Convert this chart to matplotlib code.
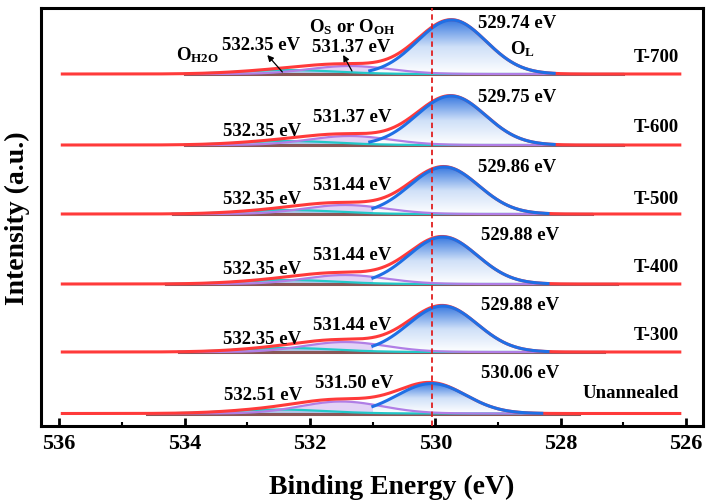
import numpy as np
import matplotlib
matplotlib.use("Agg")
import matplotlib.pyplot as plt
from matplotlib.colors import LinearSegmentedColormap
from matplotlib.ticker import MultipleLocator

plt.rcParams['font.family'] = ['Liberation Serif', 'DejaVu Serif']
plt.rcParams['font.weight'] = 'bold'
plt.rcParams['mathtext.fontset'] = 'custom'
plt.rcParams['mathtext.rm'] = 'Liberation Serif:bold'
plt.rcParams['mathtext.it'] = 'Liberation Serif:bold'
plt.rcParams['mathtext.bf'] = 'Liberation Serif:bold'

# ---------------- data ----------------
samples = ["Unannealed", "T-300", "T-400", "T-500", "T-600", "T-700"]
offsets = [12.5, 74, 142, 212, 281, 352]           # vertical stacking offsets (a.u.)
ol_center = [530.06, 529.88, 529.88, 529.86, 529.75, 529.74]
ol_height = [30, 46, 47, 47, 49, 54]
ol_sigma = [0.55, 0.55, 0.55, 0.55, 0.55, 0.55]
os_center = [531.50, 531.44, 531.44, 531.44, 531.37, 531.37]
os_height = [12, 10, 9, 9, 9, 8]
os_sigma = [0.65, 0.65, 0.65, 0.65, 0.65, 0.65]
h2o_center = [532.51, 532.35, 532.35, 532.35, 532.35, 532.35]
h2o_height = [4, 4, 4, 4, 4, 4]
h2o_sigma = [0.75, 0.75, 0.75, 0.75, 0.75, 0.75]
bg_range = [(534.6, 527.7), (534.1, 527.3), (534.3, 527.1), (534.2, 527.5), (534.0, 527.0), (534.0, 527.0)]
ol_range = [(531.0, 528.3), (531.0, 528.2), (531.0, 528.2), (531.0, 528.2), (531.05, 528.1), (531.05, 528.1)]
ol_labels = ["530.06 eV", "529.88 eV", "529.88 eV", "529.86 eV", "529.75 eV", "529.74 eV"]
os_labels = ["531.50 eV", "531.44 eV", "531.44 eV", "531.44 eV", "531.37 eV", "531.37 eV"]
h2o_labels = ["532.51 eV", "532.35 eV", "532.35 eV", "532.35 eV", "532.35 eV", "532.35 eV"]
ref_line = 530.05
xticks = [536, 534, 532, 530, 528, 526]

RED = "#ff3a3a"
BLUE = "#1f6fe5"
PURPLE = "#b07ee6"
CYAN = "#22c8c8"
BROWN = "#8a5656"

fig = plt.figure(figsize=(7.11, 5.04), dpi=100)
ax = fig.add_axes([41/711, 78/504, 662/711, 418/504])
ax.set_xlim(536.29, 525.73)
ax.set_ylim(0, 418)

E = np.linspace(535.95, 526.1, 1200)
cmap = LinearSegmentedColormap.from_list("bw", ["#ffffff", "#cfe0f8", "#3a7ae0"])

def gauss(x, c, h, s):
    return h * np.exp(-(x - c) ** 2 / (2 * s ** 2))

for i, name in enumerate(samples):
    b = offsets[i]
    g_ol = gauss(E, ol_center[i], ol_height[i], ol_sigma[i])
    g_os = gauss(E, os_center[i], os_height[i], os_sigma[i])
    g_h2o = gauss(E, h2o_center[i], h2o_height[i], h2o_sigma[i])
    env = b + g_ol + g_os + g_h2o
    lo, hi = bg_range[i][1], bg_range[i][0]
    m_bg = (E >= lo) & (E <= hi)
    ax.fill_between(E[m_bg], b, b + g_h2o[m_bg], color=CYAN, alpha=0.35, lw=0, zorder=2)
    ax.fill_between(E[m_bg], b, b + g_os[m_bg], color=PURPLE, alpha=0.35, lw=0, zorder=2)
    # O_L gradient fill
    m_ol = (E >= ol_range[i][1]) & (E <= ol_range[i][0])
    poly = ax.fill_between(E[m_ol], b, b + g_ol[m_ol], color="none", lw=0, zorder=3)
    grad = np.linspace(0, 1, 256).reshape(-1, 1)
    im = ax.imshow(grad, cmap=cmap, aspect="auto", origin="lower",
                   extent=[E[m_ol].max(), E[m_ol].min(), b, b + ol_height[i]],
                   zorder=3, interpolation="bilinear")
    im.set_clip_path(poly.get_paths()[0], transform=ax.transData)
    ax.plot(E[m_bg], np.full(m_bg.sum(), b), color=BROWN, lw=2.2, zorder=4)
    ax.plot(E[m_bg], b + g_h2o[m_bg], color=CYAN, lw=1.6, zorder=5)
    ax.plot(E[m_bg], b + g_os[m_bg], color=PURPLE, lw=1.6, zorder=5)
    ax.plot(E, env, color=RED, lw=2.2, zorder=6)
    ax.plot(E[m_ol], b + g_ol[m_ol], color=BLUE, lw=2.2, zorder=7)

def px(x, y):
    return (x / 711, 1 - y / 504)

fs = 13.5
ol_pos = [(520, 374), (520, 305), (520, 236), (517, 168), (517, 98), (517, 23)]
os_pos = [(354, 384), (352, 325), (352, 255), (352, 186), (352, 117), (351, 48)]
h2o_pos = [(263, 396), (262, 339), (262, 269), (262, 200), (262, 131), (261, 45)]
name_y = [394, 336, 267, 200, 128, 57]
for i in range(len(samples)):
    fig.text(*px(*ol_pos[i]), ol_labels[i], fontsize=fs, fontweight="bold", ha="center", va="center")
    fig.text(*px(*os_pos[i]), os_labels[i], fontsize=fs, fontweight="bold", ha="center", va="center")
    fig.text(*px(*h2o_pos[i]), h2o_labels[i], fontsize=fs, fontweight="bold", ha="center", va="center")
    fig.text(*px(679, name_y[i]), samples[i], fontsize=fs, fontweight="bold", ha="right", va="center")

fig.text(*px(198, 55), r"O$_{\mathrm{H2O}}$", fontsize=fs, fontweight="bold", ha="center", va="center")
fig.text(*px(352, 27), r"O$_{\mathrm{S}}$ or O$_{\mathrm{OH}}$", fontsize=fs, fontweight="bold", ha="center", va="center")
fig.text(*px(522, 49), r"O$_{\mathrm{L}}$", fontsize=fs, fontweight="bold", ha="center", va="center")

# arrows in T-700 (tail on curve, head at label)
top = len(samples) - 1
arrows = [((532.44, 2), (532.68, 19)), ((531.33, 3), (531.47, 19))]
for (tx, ty), (hx, hy) in arrows:
    ax.annotate("", xy=(hx, offsets[top] + hy), xytext=(tx, offsets[top] + ty),
                arrowprops=dict(arrowstyle="-|>", color="black", lw=0.9, mutation_scale=9,
                                shrinkA=0, shrinkB=0), zorder=9)

ax.axvline(ref_line, color="#e02020", lw=1.3, ls=(0, (3, 2)), zorder=8)

ax.set_xticks(xticks)
ax.set_xticklabels([str(t) for t in xticks])
ax.xaxis.set_minor_locator(MultipleLocator(1))
ax.tick_params(axis="x", which="major", direction="in", length=6, width=2, labelsize=16, pad=6)
ax.tick_params(axis="x", which="minor", direction="in", length=3, width=1.5)
ax.set_yticks([])
for s in ax.spines.values():
    s.set_linewidth(2.2)

fig.text(*px(392, 487), "Binding Energy (eV)", fontsize=20, fontweight="bold", ha="center", va="center")
fig.text(*px(17, 218), "Intensity (a.u.)", fontsize=20, fontweight="bold", ha="center", va="center", rotation=90)

fig.savefig("out.png", dpi=100)
